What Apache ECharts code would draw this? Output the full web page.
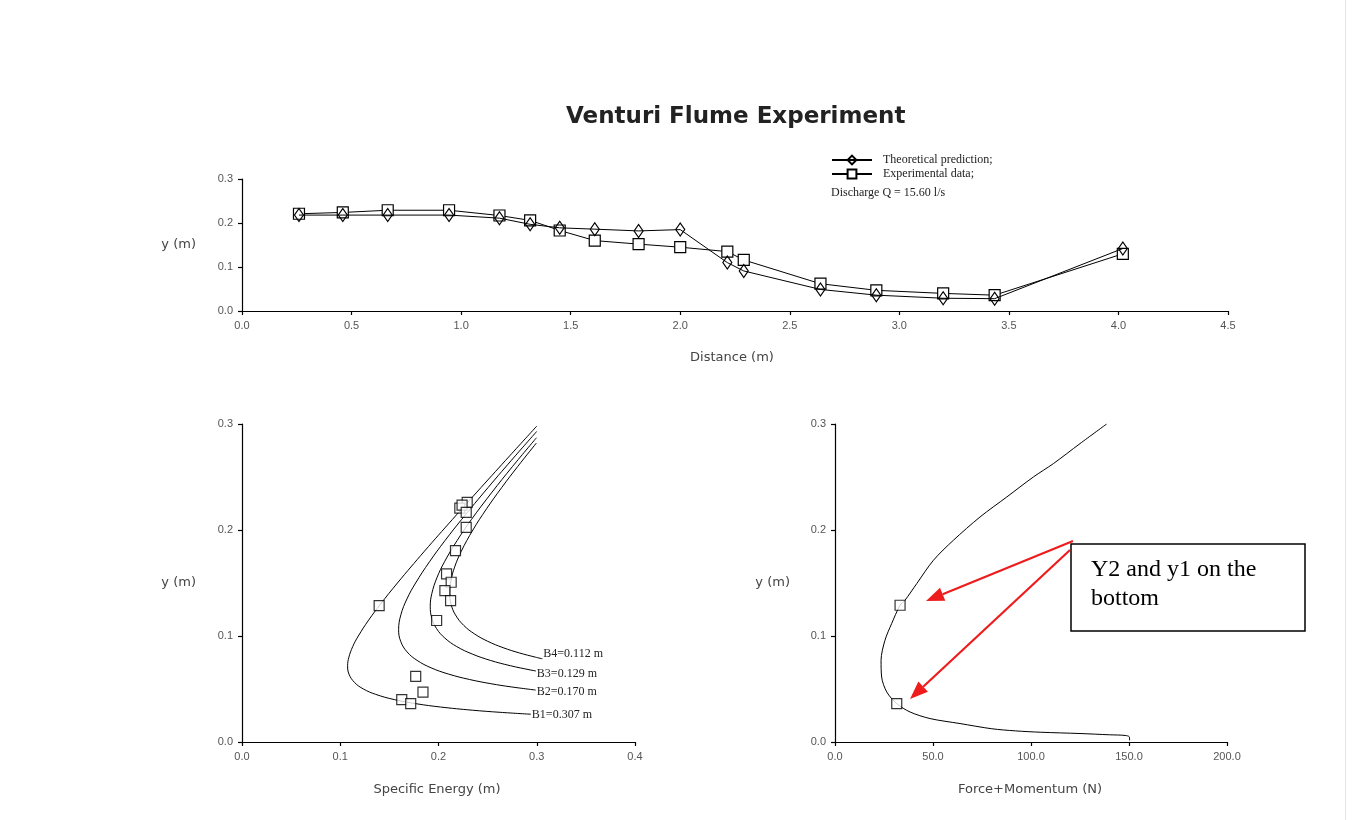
<!DOCTYPE html>
<html>
<head>
<meta charset="utf-8">
<script src="https://cdn.jsdelivr.net/npm/echarts@6/dist/echarts.min.js"></script>
<style>
html,body{margin:0;padding:0;background:#fff;}
#chart{width:1357px;height:820px;}
</style>
</head>
<body>
<div id="chart"></div>
<script>
// ---------- Data ----------
// Top chart: flow depth along the flume
const distance          = [0.26, 0.46, 0.665, 0.945, 1.175, 1.315, 1.45, 1.61, 1.81, 2.0, 2.215, 2.29, 2.64, 2.895, 3.2, 3.435, 4.02];
const theoreticalDepth  = [0.218, 0.218, 0.218, 0.218, 0.211, 0.197, 0.189, 0.186, 0.182, 0.185, 0.110, 0.091, 0.049, 0.036, 0.029, 0.028, 0.142];
const experimentalDepth = [0.221, 0.224, 0.229, 0.229, 0.217, 0.206, 0.183, 0.160, 0.152, 0.145, 0.135, 0.116, 0.062, 0.047, 0.040, 0.036, 0.130];

// Bottom-left: specific energy curves (E, y) for four throat widths
const b1Energy = [0.300, 0.2725, 0.2432, 0.2142, 0.1857, 0.1582, 0.1409, 0.1289, 0.1184, 0.1127, 0.1088, 0.1075, 0.1089, 0.1147, 0.1236, 0.1359, 0.155, 0.178, 0.202, 0.2344, 0.2627, 0.294];
const b1Depth  = [0.298, 0.27, 0.24, 0.21, 0.18, 0.15, 0.13, 0.115, 0.10, 0.09, 0.08, 0.072, 0.064, 0.056, 0.05, 0.045, 0.04, 0.036, 0.033, 0.030, 0.028, 0.0262];
const b2Energy = [0.300, 0.2782, 0.2504, 0.2236, 0.2066, 0.1908, 0.1767, 0.1679, 0.1617, 0.1594, 0.1615, 0.168, 0.1782, 0.1924, 0.2105, 0.2314, 0.2533, 0.2739, 0.2989];
const b2Depth  = [0.293, 0.27, 0.24, 0.21, 0.19, 0.17, 0.15, 0.135, 0.12, 0.106, 0.095, 0.085, 0.077, 0.07, 0.064, 0.059, 0.055, 0.052, 0.049];
const b3Energy = [0.2997, 0.2754, 0.2539, 0.2336, 0.2189, 0.2061, 0.1984, 0.1932, 0.1916, 0.1931, 0.198, 0.2065, 0.2186, 0.2343, 0.2527, 0.273, 0.2933, 0.2991];
const b3Depth  = [0.287, 0.26, 0.235, 0.21, 0.19, 0.17, 0.155, 0.14, 0.128, 0.117, 0.107, 0.098, 0.09, 0.083, 0.077, 0.072, 0.068, 0.067];
const b4Energy = [0.2996, 0.2807, 0.2643, 0.2489, 0.235, 0.2232, 0.2164, 0.2126, 0.2114, 0.2128, 0.2172, 0.2257, 0.2366, 0.2501, 0.2657, 0.2824, 0.2988, 0.3057];
const b4Depth  = [0.282, 0.26, 0.24, 0.22, 0.2, 0.18, 0.165, 0.152, 0.141, 0.13, 0.12, 0.11, 0.102, 0.095, 0.089, 0.084, 0.080, 0.0785];
const curveNames = ['B1=0.307 m', 'B2=0.170 m', 'B3=0.129 m', 'B4=0.112 m'];
// Experimental points on the specific energy diagram
const expEnergy = [0.2292, 0.2217, 0.224, 0.2282, 0.2282, 0.2173, 0.2082, 0.2129, 0.2065, 0.2123, 0.1981, 0.1396, 0.1768, 0.1842, 0.1626, 0.1717];
const expDepth  = [0.226, 0.2207, 0.2235, 0.2166, 0.2025, 0.1805, 0.1586, 0.1507, 0.1428, 0.1334, 0.1146, 0.1287, 0.0619, 0.0471, 0.0399, 0.0362];

// Bottom-right: force + momentum curve
const fmForce = [138.6, 125, 111.4, 101.2, 87.6, 74, 60.4, 50.2, 41.7, 35.7, 33.2, 28.9, 25.5, 23.5, 23.8, 26.4, 31.5, 38.3, 48.5, 63.8, 80, 92, 105, 125, 140, 148, 150.2, 150.3];
const fmDepth = [0.300, 0.2815, 0.2626, 0.25, 0.2311, 0.2123, 0.1903, 0.1714, 0.1494, 0.1337, 0.129, 0.1117, 0.096, 0.0771, 0.0613, 0.0472, 0.0362, 0.0283, 0.0221, 0.0174, 0.0125, 0.0105, 0.0092, 0.0080, 0.0068, 0.0062, 0.0048, 0.0015];
const fmPointForce = [33.2, 31.5];
const fmPointDepth = [0.129, 0.0362];

// ---------- Chart ----------
const chart = echarts.init(document.getElementById('chart'), null, {renderer: 'canvas'});
const pair = (xs, ys) => xs.map((x, i) => [x, ys[i]]);

const axisCommon = {
  axisLine: {lineStyle: {color: '#000', width: 1.2}},
  axisTick: {show: true, length: 4, lineStyle: {color: '#000', width: 1.2}},
  splitLine: {show: false},
  axisLabel: {color: '#555', fontFamily: 'Liberation Sans', fontSize: 11, margin: 9}
};
function xAx(grid, min, max, interval, dec) {
  return Object.assign({}, axisCommon, {
    type: 'value', gridIndex: grid, min, max, interval,
    axisLabel: Object.assign({}, axisCommon.axisLabel, {formatter: v => v.toFixed(dec)})
  });
}
function yAx(grid) {
  return Object.assign({}, axisCommon, {
    type: 'value', gridIndex: grid, min: 0, max: 0.3, interval: 0.1,
    axisLabel: Object.assign({}, axisCommon.axisLabel, {formatter: v => v.toFixed(1)})
  });
}

const lineBlack = {color: '#000', width: 1};
const hollow = {color: '#fff', borderColor: '#000', borderWidth: 1.2};
const serif = 'Liberation Serif';
const nameFont = 'DejaVu Sans';

const curves = [[b1Energy, b1Depth], [b2Energy, b2Depth], [b3Energy, b3Depth], [b4Energy, b4Depth]];
const labelOffsets = [[0, 1], [0, 2], [0, 3], [0, -5]];
const curveSeries = curves.map((c, i) => ({
  name: curveNames[i], type: 'line', xAxisIndex: 1, yAxisIndex: 1,
  data: pair(c[0], c[1]), smooth: 0.4, showSymbol: false, symbol: 'none',
  lineStyle: lineBlack, silent: true,
  endLabel: {show: true, formatter: '{a}', distance: 1, offset: labelOffsets[i], color: '#222', fontFamily: serif, fontSize: 12}
}));

// arrow helper (annotation only)
function arrow(x1, y1, x2, y2) {
  const dx = x2 - x1, dy = y2 - y1, L = Math.hypot(dx, dy);
  const ux = dx / L, uy = dy / L, hl = 18, hw = 7;
  const bx = x2 - ux * hl, by = y2 - uy * hl;
  return [
    {type: 'line', shape: {x1, y1, x2: bx, y2: by}, style: {stroke: '#ee1c1c', lineWidth: 2.2}},
    {type: 'polygon', shape: {points: [[x2, y2], [bx - uy * hw, by + ux * hw], [bx + uy * hw, by - ux * hw]]}, style: {fill: '#ee1c1c'}}
  ];
}

const option = {
  animation: false,
  backgroundColor: '#fff',
  title: {
    text: 'Venturi Flume Experiment', left: 566, top: 106, padding: 0,
    textStyle: {fontFamily: 'DejaVu Sans', fontWeight: 'bold', fontSize: 23, color: '#222'}
  },
  legend: {
    left: 831, top: 154, orient: 'vertical', padding: 0, itemGap: 2,
    itemWidth: 40, itemHeight: 11,
    data: ['Theoretical prediction;', 'Experimental data;'],
    textStyle: {fontFamily: serif, fontSize: 12, color: '#222', padding: [0, 0, 0, 6]}
  },
  grid: [
    {left: 242, top: 179, width: 986, height: 132},
    {left: 242, top: 424, width: 393, height: 318},
    {left: 835, top: 424, width: 392, height: 318}
  ],
  xAxis: [xAx(0, 0, 4.5, 0.5, 1), xAx(1, 0, 0.4, 0.1, 1), xAx(2, 0, 200, 50, 1)],
  yAxis: [yAx(0), yAx(1), yAx(2)],
  series: [
    {
      name: 'Experimental data;', type: 'line', xAxisIndex: 0, yAxisIndex: 0,
      data: pair(distance, experimentalDepth), symbol: 'rect', symbolSize: 11,
      lineStyle: lineBlack, itemStyle: hollow, z: 2
    },
    {
      name: 'Theoretical prediction;', type: 'line', xAxisIndex: 0, yAxisIndex: 0,
      data: pair(distance, theoreticalDepth), symbol: 'diamond', symbolSize: [9, 13],
      lineStyle: lineBlack, itemStyle: {color: 'rgba(255,255,255,0)', borderColor: '#000', borderWidth: 1.2}, z: 3
    },
    ...curveSeries,
    {
      name: 'exp-energy', type: 'scatter', xAxisIndex: 1, yAxisIndex: 1,
      data: pair(expEnergy, expDepth), symbol: 'rect', symbolSize: 10, itemStyle: hollow, z: 4
    },
    {
      name: 'force-momentum', type: 'line', xAxisIndex: 2, yAxisIndex: 2,
      data: pair(fmForce, fmDepth), smooth: 0.3, showSymbol: false, symbol: 'none', lineStyle: lineBlack
    },
    {
      name: 'fm-points', type: 'scatter', xAxisIndex: 2, yAxisIndex: 2,
      data: pair(fmPointForce, fmPointDepth), symbol: 'rect', symbolSize: 10, itemStyle: hollow, z: 4
    }
  ],
  graphic: [
    {type: 'text', left: 831, top: 187, style: {text: 'Discharge Q = 15.60 l/s', fontFamily: serif, fontSize: 12, fill: '#222'}},
    {type: 'text', x: 196, y: 245, style: {text: 'y (m)', fontFamily: nameFont, fontSize: 13, fill: '#444', textAlign: 'right', textVerticalAlign: 'middle'}},
    {type: 'text', x: 732, y: 358, style: {text: 'Distance (m)', fontFamily: nameFont, fontSize: 13, fill: '#444', textAlign: 'center', textVerticalAlign: 'middle'}},
    {type: 'text', x: 196, y: 583, style: {text: 'y (m)', fontFamily: nameFont, fontSize: 13, fill: '#444', textAlign: 'right', textVerticalAlign: 'middle'}},
    {type: 'text', x: 437, y: 790, style: {text: 'Specific Energy (m)', fontFamily: nameFont, fontSize: 13, fill: '#444', textAlign: 'center', textVerticalAlign: 'middle'}},
    {type: 'text', x: 790, y: 583, style: {text: 'y (m)', fontFamily: nameFont, fontSize: 13, fill: '#444', textAlign: 'right', textVerticalAlign: 'middle'}},
    {type: 'text', x: 1030, y: 790, style: {text: 'Force+Momentum (N)', fontFamily: nameFont, fontSize: 13, fill: '#444', textAlign: 'center', textVerticalAlign: 'middle'}},
    {type: 'rect', shape: {x: 1071, y: 544, width: 234, height: 87}, style: {fill: '#fff', stroke: '#000', lineWidth: 1.5}, z: 10},
    {type: 'text', x: 1091, y: 555, z: 11, style: {text: 'Y2 and y1 on the\nbottom', fontFamily: serif, fontSize: 24, lineHeight: 29, fill: '#000'}},
    ...arrow(1073, 541, 926, 601).map(e => Object.assign(e, {z: 12})),
    ...arrow(1070, 550, 910, 699).map(e => Object.assign(e, {z: 12})),
    {type: 'line', shape: {x1: 1345.5, y1: 0, x2: 1345.5, y2: 820}, style: {stroke: '#e4e4e4', lineWidth: 1}}
  ]
};
chart.setOption(option);
</script>
</body>
</html>
